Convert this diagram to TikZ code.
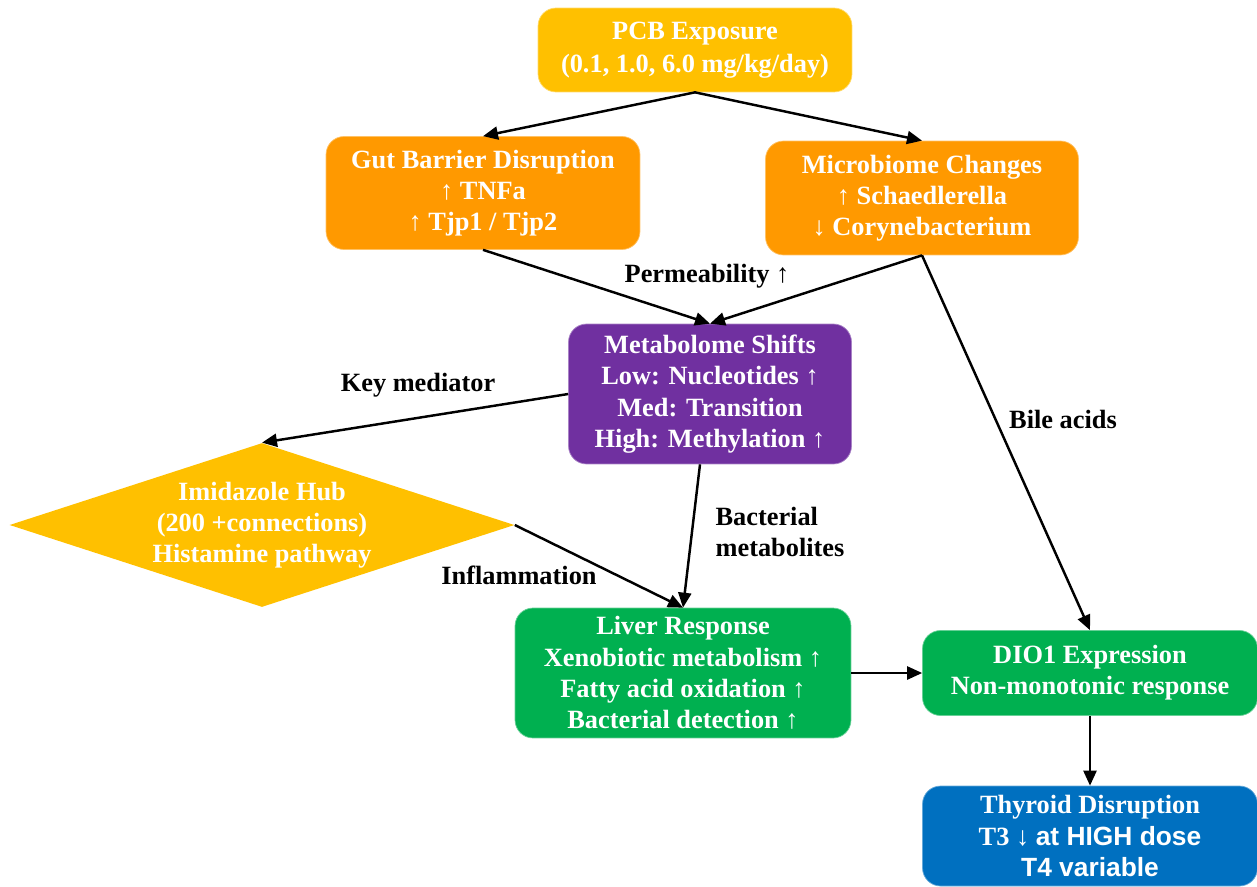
\documentclass[tikz,border=0pt]{standalone}
\usepackage{fontspec}
\setmainfont{Liberation Serif}
\setsansfont{Liberation Sans}
\usetikzlibrary{arrows.meta,positioning,shapes.geometric}
\definecolor{exposure}{HTML}{FFC000}
\definecolor{gutorange}{HTML}{FF9900}
\definecolor{metabpurple}{HTML}{7030A0}
\definecolor{livergreen}{HTML}{00B050}
\definecolor{thyroidblue}{HTML}{0070C0}

\begin{document}
\begin{tikzpicture}[x=0.02cm, y=-0.02cm,
    box/.style={rounded corners=0.36cm, text=white, align=center, inner sep=2pt,
        font=\bfseries\fontsize{15}{17.8}\selectfont},
    link/.style={-{Triangle[length=0.3cm, width=0.26cm]}, line width=1.4pt},
    lbl/.style={font=\bfseries\fontsize{15}{17.8}\selectfont, align=center}]
    \useasboundingbox (0,0) rectangle (1257,886);
    % boxes
    \node[box, fill=exposure, draw=exposure!60!white, minimum width=6.28cm, minimum height=1.68cm] (pcb) at (695,50)
        {PCB Exposure\\[1pt](0.1, 1.0, 6.0 mg/kg/day)};
    \node[box, fill=gutorange, draw=gutorange!60!white, minimum width=6.28cm, minimum height=2.26cm] (gut) at (483,193)
        {Gut Barrier Disruption\\{\mdseries↑} TNFa\\{\mdseries↑} Tjp1 / Tjp2};
    \node[box, fill=gutorange, draw=gutorange!60!white, minimum width=6.26cm, minimum height=2.28cm] (micro) at (922,198)
        {Microbiome Changes\\{\mdseries↑} Schaedlerella\\{\mdseries↓} Corynebacterium};
    \node[box, fill=metabpurple, draw=metabpurple!60!white, minimum width=5.66cm, minimum height=2.8cm] (metab) at (710,394)
        {Metabolome Shifts\\Low: Nucleotides {\mdseries↑}\\Med: Transition\\High: Methylation {\mdseries↑}};
    \node[box, shape=diamond, rounded corners=0pt, fill=exposure, inner sep=0pt, aspect=3.08,
        minimum width=10.1cm, minimum height=3.28cm] (hub) at (262,525)
        {Imidazole Hub\\(200 +connections)\\Histamine pathway};
    \node[box, fill=livergreen, draw=livergreen!60!white, minimum width=6.72cm, minimum height=2.6cm] (liver) at (683,673)
        {Liver Response\\Xenobiotic metabolism {\mdseries↑}\\Fatty acid oxidation {\mdseries↑}\\Bacterial detection {\mdseries↑}};
    \node[box, fill=livergreen, draw=livergreen!60!white, minimum width=6.7cm, minimum height=1.7cm] (dio) at (1090,673)
        {DIO1 Expression\\Non-monotonic response};
    \node[box, fill=thyroidblue, draw=thyroidblue!60!white, minimum width=6.7cm, minimum height=2.0cm] (thy) at (1090,836)
        {Thyroid Disruption\\T3 {\mdseries↓} {\sffamily at HIGH dose}\\{\sffamily T4 variable}};
    % connectors
    \draw[link] (pcb.south) -- (gut.north);
    \draw[link] (pcb.south) -- (micro.north);
    \draw[link] (gut.south) -- (metab.north);
    \draw[link] (micro.south) -- (metab.north);
    \draw[link] (micro.south) -- (dio.north);
    \draw[link] (metab.west) -- (hub.north);
    \draw[link] ([xshift=-0.2cm]metab.south) -- (liver.north);
    \draw[link] (hub.east) -- (liver.north);
    \draw[link] (liver.east) -- (dio.west);
    \draw[link] (dio.south) -- (thy.north);
    % labels
    \node[lbl] (perm) at (707,276) {Permeability {\mdseries↑}};
    \node[lbl] (keymed) at (418,385) {Key mediator};
    \node[lbl] (bile) at (1063,419) {Bile acids};
    \node[lbl, align=left] (bact) at (780,532) {Bacterial\\metabolites};
    \node[lbl] (infl) at (519,575) {Inflammation};
\end{tikzpicture}
\end{document}
